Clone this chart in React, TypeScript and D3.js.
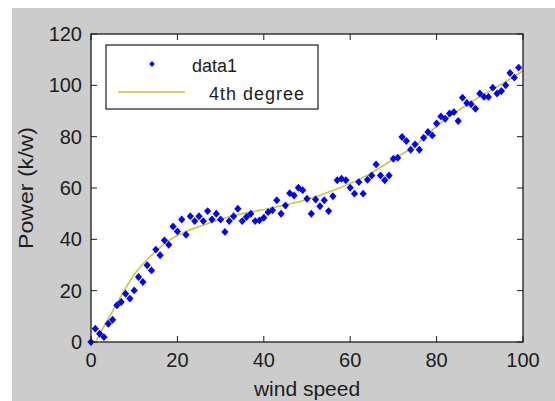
import React from 'react';
import * as d3 from 'd3';

const width = 555;
const height = 401;
const margin = {top: 34, right: 32, bottom: 59, left: 91};

// measured points: wind speed vs power
const windSpeed = [
  0, 1, 2, 3, 4, 5, 6, 7, 8, 9, 10, 11, 12, 13, 14, 15, 16, 17, 18, 19,
  20, 21, 22, 23, 24, 25, 26, 27, 28, 29, 30, 31, 32, 33, 34, 35, 36, 37, 38, 39,
  40, 41, 42, 43, 44, 45, 46, 47, 48, 49, 50, 51, 52, 53, 54, 55, 56, 57, 58, 59,
  60, 61, 62, 63, 64, 65, 66, 67, 68, 69, 70, 71, 72, 73, 74, 75, 76, 77, 78, 79,
  80, 81, 82, 83, 84, 85, 86, 87, 88, 89, 90, 91, 92, 93, 94, 95, 96, 97, 98, 99
];
const power = [
  0, 5.2, 3.2, 1.9, 7.1, 8.7, 14.3, 15.6, 18.8, 16.9, 20.1, 25.3, 23.4, 29.9, 27.9, 36, 33.8, 39.6, 37.9, 45,
  43.1, 47.7, 41.8, 49, 47.1, 49, 47.1, 51, 47.7, 50, 47.7, 42.9, 47.1, 49, 51.9, 47.1, 48.7, 50, 47.1, 47.4,
  48.4, 50.6, 51.3, 55.2, 50, 53.2, 58, 57.1, 60.1, 59.1, 55.8, 50, 55.5, 52.9, 55.2, 51, 56.8, 63, 63.6, 63,
  60.1, 57.8, 62.3, 57.8, 63.2, 64.9, 69.2, 64.9, 63, 64.9, 71.4, 71.8, 79.9, 78.3, 74.9, 77, 74.9, 79.6, 81.8, 80.5,
  85.1, 87.9, 87, 89, 89.6, 86.1, 95.2, 93.1, 92.6, 90.9, 96.8, 95.5, 95.5, 99.1, 96.8, 97.8, 100, 104.8, 103, 106.9
];

// 4th degree fit
const fitX = [0, 2, 5, 10, 14, 18, 22, 26, 32, 40, 50, 56, 64, 70, 75, 80, 88, 96, 100];
const fitY = [-4, 3, 12, 26.3, 33.8, 39.5, 43, 45.5, 48.8, 51.6, 55.5, 59, 65, 71.2, 76.5, 84, 93.5, 101.4, 105.7];

const xTicks = [0, 20, 40, 60, 80, 100];
const yTicks = [0, 20, 40, 60, 80, 100, 120];

const font = '"Liberation Sans", Arial, sans-serif';
const ink = '#1c1c1c';
const diamond = (r) => `M0,${-r * 1.1}L${r},0L0,${r * 1.1}L${-r},0Z`;

export default function App() {
  const x = d3.scaleLinear().domain([0, 100]).range([margin.left, width - margin.right]);
  const y = d3.scaleLinear().domain([0, 120]).range([height - margin.bottom, margin.top]);
  const [x0, x1] = x.range();
  const [y0, y1] = y.range();

  const fitLine = d3.line()
    .x(d => x(d[0]))
    .y(d => y(d[1]))
    .curve(d3.curveMonotoneX)(fitX.map((v, i) => [v, fitY[i]]));

  return (
    <svg width={width} height={height} style={{position: 'absolute', left: 0, top: 0}}>
      <rect x={0} y={0} width={width} height={height} fill='#fff' />
      <rect x={12} y={8} width={width - 12} height={height - 8} fill='#cccccc' />
      <defs>
        <clipPath id='plot'>
          <rect x={x0} y={y1} width={x1 - x0} height={y0 - y1} />
        </clipPath>
      </defs>
      <rect x={x0} y={y1} width={x1 - x0} height={y0 - y1} fill='#fff' />

      {/* ticks on all four sides, pointing in */}
      {xTicks.map(t => (
        <g key={'xt' + t} stroke={ink} strokeWidth={1}>
          <line x1={x(t)} x2={x(t)} y1={y0} y2={y0 - 6} />
          <line x1={x(t)} x2={x(t)} y1={y1} y2={y1 + 6} />
        </g>
      ))}
      {yTicks.map(t => (
        <g key={'yt' + t} stroke={ink} strokeWidth={1}>
          <line x1={x0} x2={x0 + 6} y1={y(t)} y2={y(t)} />
          <line x1={x1} x2={x1 - 6} y1={y(t)} y2={y(t)} />
        </g>
      ))}

      <g clipPath='url(#plot)'>
        <path d={fitLine} fill='none' stroke='#c8c832' strokeWidth={1.6} />
      </g>
      {windSpeed.map((v, i) => (
        <path key={i} d={diamond(3.6)} transform={`translate(${x(v)},${y(power[i])})`} fill='#0000ff' />
      ))}

      <rect x={x0} y={y1} width={x1 - x0} height={y0 - y1} fill='none' stroke={ink} strokeWidth={1.3} />

      {xTicks.map(t => (
        <text key={'xl' + t} x={x(t)} y={367} textAnchor='middle' fontFamily={font} fontSize={20} fill={ink}>{t}</text>
      ))}
      {yTicks.map(t => (
        <text key={'yl' + t} x={82} y={y(t) + 7} textAnchor='end' fontFamily={font} fontSize={20} fill={ink}>{t}</text>
      ))}

      <text x={(x0 + x1) / 2} y={396} textAnchor='middle' fontFamily={font} fontSize={21} fill={ink}>wind speed</text>
      <text transform={`translate(33,${(y0 + y1) / 2}) scale(1,1.1) rotate(-90)`} textAnchor='middle' fontFamily={font} fontSize={21} fill={ink}>Power (k/w)</text>

      {/* legend */}
      <rect x={106} y={45} width={212} height={64} fill='#fff' stroke={ink} strokeWidth={1.2} />
      <path d={diamond(2.8)} transform='translate(152,64)' fill='#0000ff' />
      <text x={192} y={72} fontFamily={font} fontSize={18} fill={ink}>data1</text>
      <line x1={118} x2={185} y1={92} y2={92} stroke='#c8c832' strokeWidth={1.6} />
      <text x={209} y={100} fontFamily={font} fontSize={18} letterSpacing={1} fill={ink}>4th degree</text>
    </svg>
  );
}
